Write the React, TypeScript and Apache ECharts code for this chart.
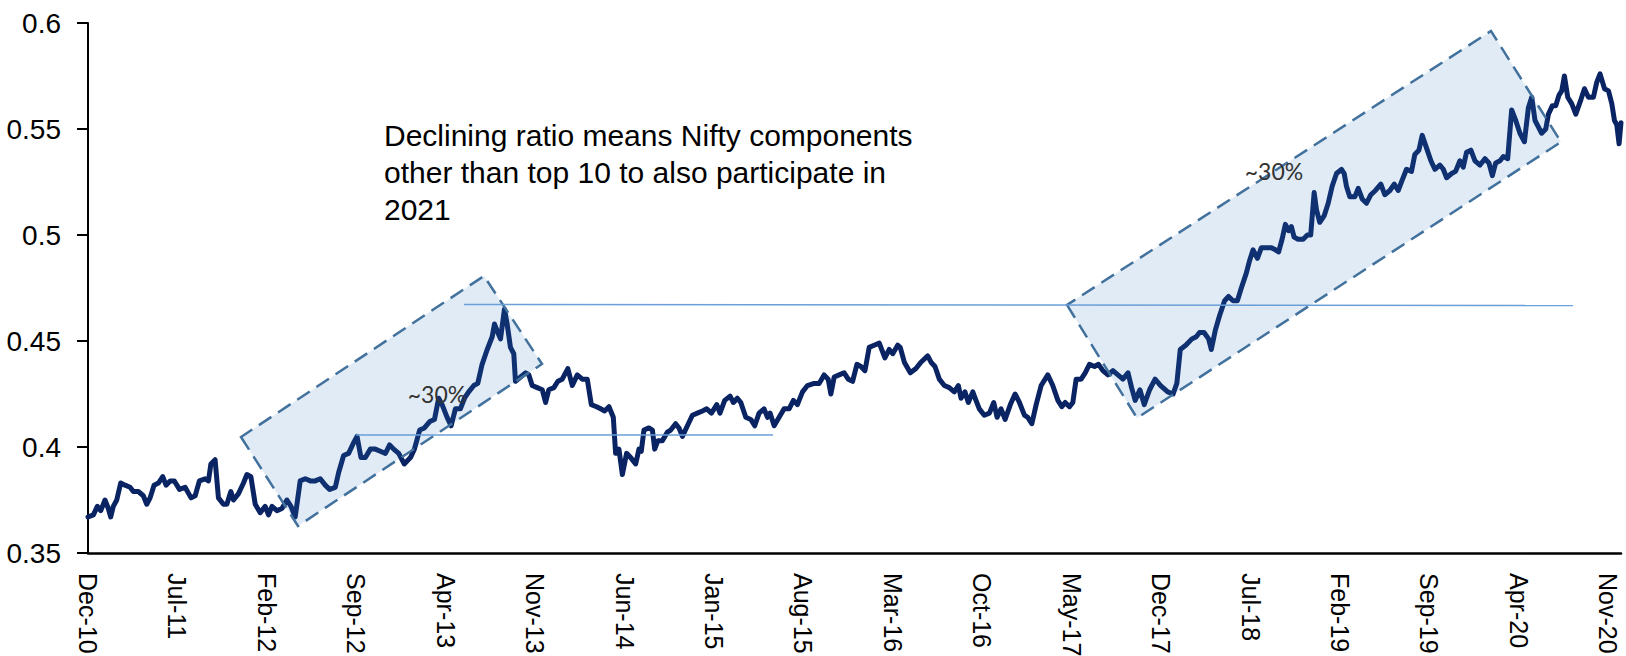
import { useEffect, useRef } from 'react';
import * as echarts from 'echarts';

// X tick labels: one every 7 months starting Dec-10
const xTickLabels = [
  'Dec-10', 'Jul-11', 'Feb-12', 'Sep-12', 'Apr-13', 'Nov-13', 'Jun-14', 'Jan-15', 'Aug-15',
  'Mar-16', 'Oct-16', 'May-17', 'Dec-17', 'Jul-18', 'Feb-19', 'Sep-19', 'Apr-20', 'Nov-20',
];

// months elapsed since Dec-10 for each observation
const monthOffset = [
  0.00, 0.42, 0.73, 1.00, 1.33, 1.59, 1.78, 1.98, 2.25, 2.56, 2.90, 3.29, 3.55, 3.94, 4.33, 4.60, 4.86,
  5.17, 5.51, 5.85, 6.11, 6.43, 6.76, 7.16, 7.60, 8.07, 8.39, 8.72, 9.17, 9.43, 9.62, 9.95, 10.21, 10.60,
  10.87, 11.18, 11.39, 11.78, 12.17, 12.44, 12.75, 13.09, 13.48, 13.87, 14.13, 14.40, 14.79, 15.18, 15.57,
  15.89, 16.22, 16.61, 17.01, 17.40, 17.79, 18.18, 18.57, 18.91, 19.36, 19.62, 20.01, 20.40, 20.79,
  21.06, 21.37, 21.71, 22.10, 22.49, 22.88, 23.28, 23.61, 23.93, 24.32, 24.76, 25.24, 25.55, 25.96, 26.33,
  26.75, 27.12, 27.45, 27.72, 28.11, 28.42, 28.76, 29.15, 29.47, 29.80, 30.20, 30.51, 30.85, 31.25, 31.64,
  31.82, 32.08, 32.29, 32.60, 32.81, 33.07, 33.33, 33.46, 33.86, 34.25, 34.51, 34.77, 35.16, 35.56, 35.82,
  36.07, 36.47, 36.78, 37.12, 37.56, 37.91, 38.30, 38.69, 39.08, 39.40, 39.81, 40.13, 40.44, 40.78,
  41.12, 41.30, 41.56, 41.83, 42.16, 42.48, 42.87, 43.13, 43.31, 43.52, 43.91, 44.18, 44.36, 44.61, 44.96,
  45.35, 45.61, 46.00, 46.26, 46.53, 46.92, 47.31, 47.70, 48.10, 48.43, 48.80, 49.22, 49.47, 49.84, 50.26,
  50.52, 50.83, 51.10, 51.49, 51.88, 52.19, 52.53, 52.92, 53.19, 53.39, 53.71, 54.10, 54.49, 54.88, 55.22,
  55.53, 55.93, 56.32, 56.84, 57.23, 57.62, 57.94, 58.15, 58.41, 58.80, 59.19, 59.51, 59.85, 60.19, 60.50,
  60.82, 61.15, 61.54,
  61.94, 62.38, 62.72, 62.99, 63.38, 63.58, 63.90, 64.37, 64.81, 65.20, 65.73, 65.99, 66.30, 66.64, 67.03,
  67.42, 67.81, 68.13, 68.34, 68.65, 68.91, 69.26, 69.51, 69.77, 70.16, 70.56, 70.90, 71.16, 71.47, 71.79,
  72.20, 72.57, 72.91, 73.30, 73.56, 73.88, 74.22, 74.61, 75.13, 75.52, 75.92, 76.23, 76.49, 76.83, 77.09,
  77.35, 77.74, 78.06, 78.39, 78.79, 79.10, 79.44, 79.84, 80.23, 80.62, 81.01, 81.41, 81.69, 81.97, 82.34,
  82.68, 83.10, 83.53, 83.96, 84.52, 84.94, 85.23, 85.50, 85.93, 86.41, 86.75, 87.01, 87.36, 87.72, 87.93,
  88.24, 88.58, 88.97, 89.28, 89.63, 89.97, 90.28, 90.67, 90.93, 91.20, 91.54, 91.85, 92.24, 92.63, 92.95,
  93.20, 93.47, 93.73, 93.99, 94.20, 94.41, 94.72, 95.12, 95.45, 95.71, 95.98, 96.16, 96.42, 96.76, 97.08,
  97.39, 97.73, 98.12, 98.33, 98.51, 98.77, 99.16, 99.43, 99.74, 100.08, 100.42, 100.78, 101.20, 101.51,
  101.91, 102.25, 102.56, 102.88,
  103.21, 103.60, 103.86, 104.18, 104.44, 104.78, 105.12, 105.43, 105.82, 106.09, 106.35, 106.74, 107.05,
  107.39, 107.65, 107.91, 108.25, 108.57, 108.96, 109.35, 109.66, 109.93, 110.19, 110.53, 110.79, 111.13,
  111.44, 111.76, 112.09, 112.44, 112.75, 113.01, 113.27, 113.53, 113.79, 114.11, 114.32, 114.63, 114.89,
  115.15, 115.36, 115.57, 115.83, 116.14, 116.46, 116.87, 117.14, 117.45, 117.84, 118.10, 118.36, 118.71,
  119.02, 119.28, 119.49, 119.67, 119.85, 120.00,
];

// ratio of top-10 weight
const ratio = [
  0.367, 0.368, 0.372, 0.370, 0.375, 0.371, 0.367, 0.372, 0.375, 0.383, 0.382, 0.381, 0.379, 0.379, 0.377, 0.373, 0.376,
  0.382, 0.383, 0.386, 0.382, 0.384, 0.384, 0.380, 0.381, 0.376, 0.377, 0.384, 0.385, 0.384, 0.392, 0.394, 0.376, 0.373,
  0.373, 0.379, 0.375, 0.378, 0.383, 0.387, 0.386, 0.373, 0.369, 0.372, 0.368, 0.372, 0.370, 0.371, 0.375,
  0.372, 0.367, 0.384, 0.385, 0.384, 0.384, 0.385, 0.382, 0.380, 0.381, 0.388, 0.396, 0.397, 0.402,
  0.405, 0.395, 0.395, 0.399, 0.399, 0.398, 0.397, 0.401, 0.399, 0.397, 0.392, 0.395, 0.399, 0.408, 0.409,
  0.412, 0.413, 0.423, 0.420, 0.414, 0.410, 0.418, 0.418, 0.423, 0.426, 0.429, 0.430, 0.439, 0.446, 0.452,
  0.458, 0.454, 0.451, 0.465, 0.458, 0.447, 0.444, 0.431, 0.433, 0.435, 0.434, 0.429, 0.428, 0.427, 0.421,
  0.427, 0.428, 0.431, 0.432, 0.437, 0.429, 0.434, 0.432, 0.432, 0.420, 0.419, 0.418, 0.417, 0.419,
  0.414, 0.397, 0.399, 0.387, 0.397, 0.395, 0.392, 0.399, 0.398, 0.408, 0.409, 0.408, 0.399, 0.403, 0.403,
  0.407, 0.408, 0.411, 0.409, 0.405, 0.410, 0.415, 0.416, 0.417, 0.418, 0.416, 0.420, 0.416, 0.422, 0.424,
  0.421, 0.423, 0.421, 0.414, 0.413, 0.410, 0.416, 0.418, 0.414, 0.416, 0.410, 0.414, 0.418, 0.418, 0.422,
  0.420, 0.426, 0.429, 0.430, 0.430, 0.434, 0.432, 0.425, 0.433, 0.434, 0.435, 0.432, 0.431, 0.439, 0.438,
  0.436, 0.447, 0.448,
  0.449, 0.442, 0.446, 0.444, 0.448, 0.447, 0.440, 0.435, 0.437, 0.440, 0.443, 0.440, 0.438, 0.432, 0.429,
  0.428, 0.426, 0.429, 0.423, 0.426, 0.421, 0.426, 0.422, 0.418, 0.415, 0.416, 0.421, 0.414, 0.418, 0.413,
  0.420, 0.425, 0.421, 0.415, 0.414, 0.411, 0.420, 0.429, 0.434, 0.429, 0.422, 0.419, 0.421, 0.419, 0.421,
  0.432, 0.432, 0.435, 0.439, 0.438, 0.439, 0.436, 0.434, 0.436, 0.434, 0.432, 0.435, 0.428, 0.422, 0.427,
  0.420, 0.427, 0.432, 0.429, 0.426, 0.425, 0.430, 0.446, 0.448, 0.451, 0.452, 0.454, 0.454, 0.451, 0.446,
  0.455, 0.462, 0.469, 0.471, 0.469, 0.469, 0.475, 0.482, 0.488, 0.493, 0.489, 0.494, 0.494, 0.494, 0.493,
  0.492, 0.498, 0.505, 0.502, 0.504, 0.499, 0.498, 0.498, 0.500, 0.500, 0.520, 0.512, 0.506, 0.509, 0.515,
  0.523, 0.529, 0.531, 0.529, 0.523, 0.518, 0.518, 0.522, 0.517, 0.515, 0.519, 0.521, 0.524, 0.519,
  0.521, 0.524, 0.521, 0.526,
  0.531, 0.530, 0.538, 0.540, 0.547, 0.541, 0.535, 0.531, 0.533, 0.531, 0.527, 0.529, 0.530,
  0.535, 0.532, 0.539, 0.540, 0.535, 0.533, 0.536, 0.534, 0.528, 0.534, 0.535, 0.537, 0.536,
  0.559, 0.554, 0.548, 0.544, 0.560, 0.565, 0.554, 0.551, 0.548, 0.550, 0.557, 0.561, 0.561,
  0.566, 0.568, 0.575, 0.565, 0.562, 0.557, 0.564, 0.569, 0.565, 0.565, 0.572, 0.576, 0.569,
  0.568, 0.562, 0.554, 0.552, 0.543, 0.553,
];

const noteText = 'Declining ratio means Nifty components\nother than top 10 to also participate in\n2021';
const trendLabel = '~30%';

const axisFont = '"Liberation Sans", Arial, sans-serif';

export default function App() {
  const ref = useRef<HTMLDivElement>(null);

  useEffect(() => {
    document.body.style.margin = '0';
    const chart = echarts.init(ref.current as HTMLDivElement, null, { renderer: 'svg' });
    const data = monthOffset.map((m, i) => [m, ratio[i]]);

    const boxStyle = {
      fill: 'rgba(48,122,195,0.15)',
      stroke: '#41719c',
      lineWidth: 2.5,
      lineDash: [15, 8],
    };
    const refLineStyle = { stroke: '#6a9fd8', lineWidth: 1.5 };
    const pctStyle = {
      text: trendLabel,
      fontSize: 23,
      fontFamily: 'Lato, "Open Sans", sans-serif',
      fill: '#333',
      align: 'center',
      verticalAlign: 'middle',
    };

    chart.setOption({
      animation: false,
      backgroundColor: '#ffffff',
      grid: { left: 88, right: 5, top: 23, bottom: 103, containLabel: false, outerBoundsMode: 'none' },
      xAxis: {
        type: 'value',
        min: 0,
        max: 120,
        interval: 7,
        axisLine: { show: true, lineStyle: { color: '#000', width: 2.5 } },
        axisTick: { show: false },
        splitLine: { show: false },
        axisLabel: {
          rotate: -90,
          margin: 20,
          fontSize: 25,
          fontFamily: axisFont,
          color: '#000',
          showMaxLabel: false,
          formatter: (v: number) => xTickLabels[Math.round(v / 7)] ?? '',
        },
      },
      yAxis: {
        type: 'value',
        min: 0.35,
        max: 0.6,
        interval: 0.05,
        axisLine: { show: true, lineStyle: { color: '#000', width: 2 } },
        axisTick: { show: true, length: 11, lineStyle: { color: '#000', width: 2 } },
        splitLine: { show: false },
        axisLabel: {
          margin: 27,
          fontSize: 28,
          fontFamily: axisFont,
          color: '#000',
          formatter: (v: number) => String(+v.toFixed(2)),
        },
      },
      series: [
        {
          type: 'line',
          data,
          showSymbol: false,
          z: 2,
          lineStyle: { color: '#0a2463', width: 5, join: 'round', cap: 'round' },
        },
      ],
      graphic: [
        {
          type: 'polygon',
          z: 100,
          shape: { points: [[241, 437], [298, 526], [542, 364], [484, 276]] },
          style: boxStyle,
        },
        {
          type: 'polygon',
          z: 100,
          shape: { points: [[1067, 305], [1137, 418], [1561, 142], [1491, 31]] },
          style: boxStyle,
        },
        {
          type: 'line',
          z: 110,
          shape: { x1: 356, y1: 435, x2: 773, y2: 435 },
          style: refLineStyle,
        },
        {
          type: 'line',
          z: 110,
          shape: { x1: 464, y1: 304.5, x2: 1573, y2: 305.5 },
          style: refLineStyle,
        },
        {
          type: 'text',
          z: 120,
          x: 384,
          y: 117,
          style: {
            text: noteText,
            fontSize: 30,
            fontFamily: '"Liberation Sans", Arial, sans-serif',
            fill: '#000',
            lineHeight: 37,
            align: 'left',
            verticalAlign: 'top',
          },
        },
        { type: 'text', z: 120, x: 437, y: 394, style: pctStyle },
        { type: 'text', z: 120, x: 1274, y: 171, style: pctStyle },
      ],
    });

    return () => chart.dispose();
  }, []);

  return <div ref={ref} style={{ width: 1626, height: 656 }} />;
}
